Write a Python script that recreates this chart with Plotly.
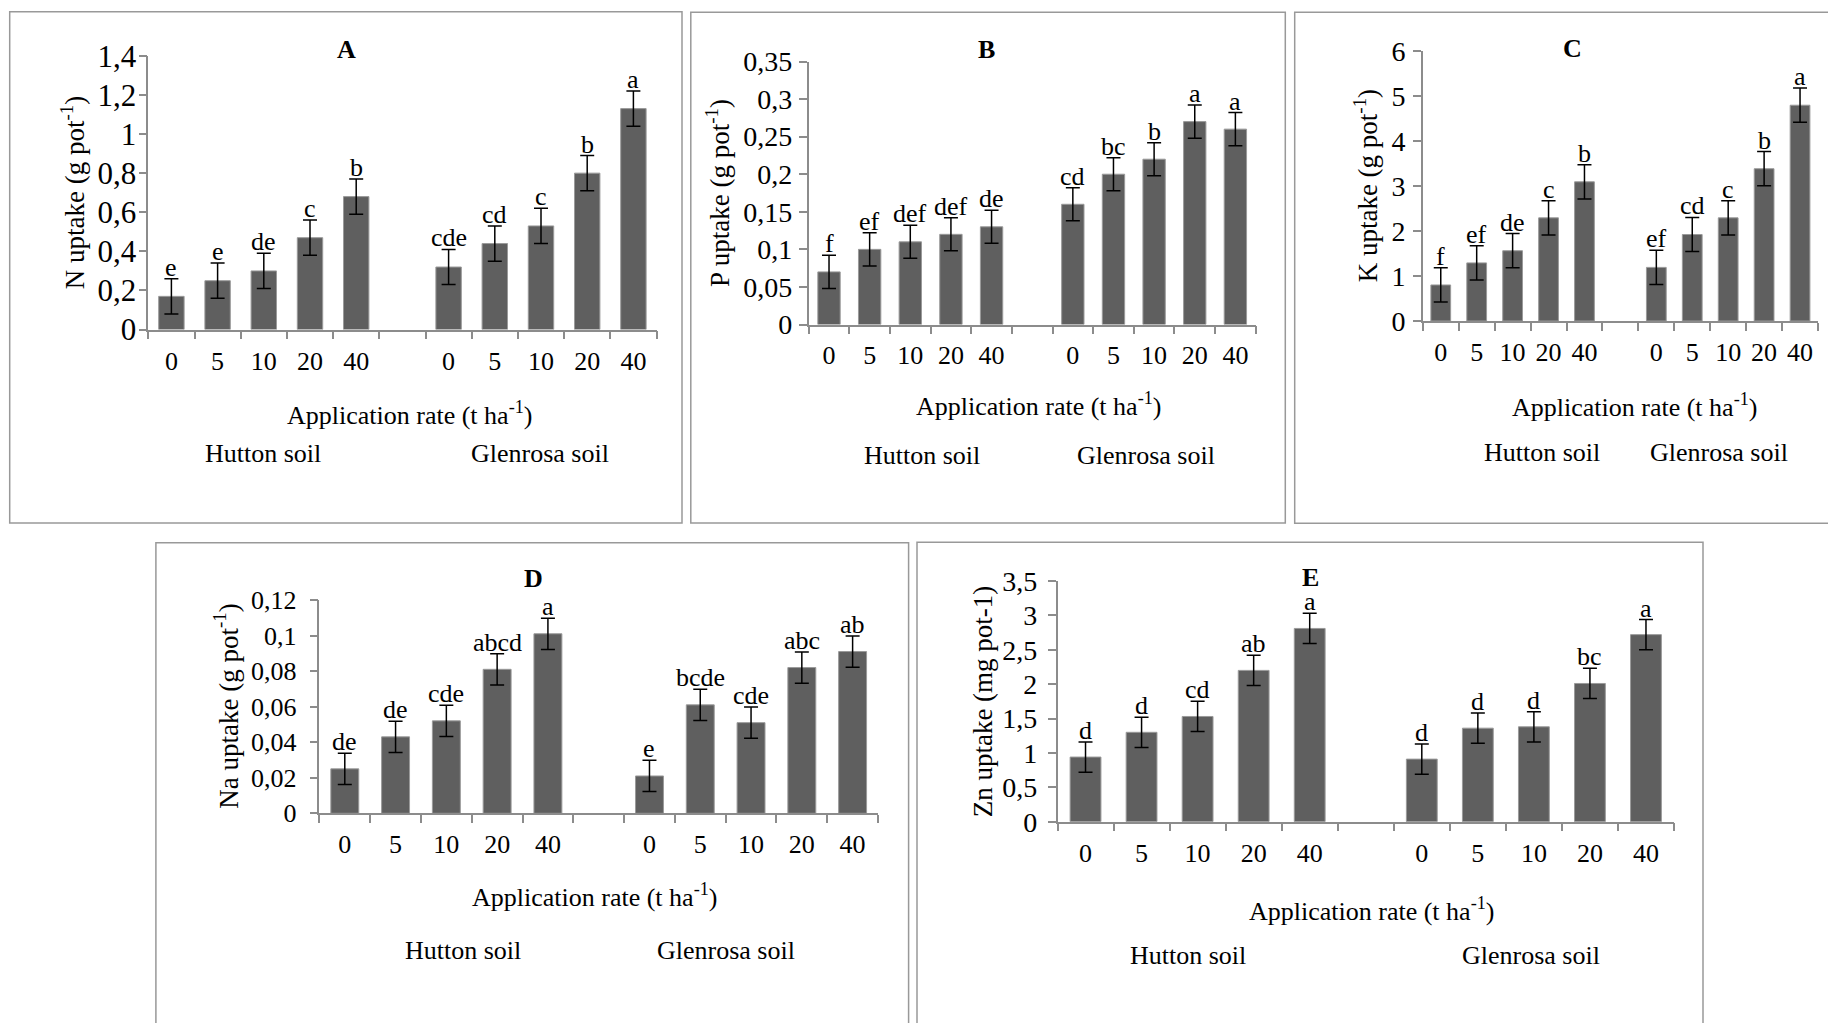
import plotly.graph_objects as go

W, H = 1828, 1023
FONT = "Liberation Serif"

rates = ["0", "5", "10", "20", "40"]
soils = ["Hutton soil", "Glenrosa soil"]
xlabel = "Application rate (t ha<sup>-1</sup>)"

# Panel A - N uptake
n_hutton = [0.17, 0.25, 0.30, 0.47, 0.68]
n_glen = [0.32, 0.44, 0.53, 0.80, 1.13]
n_err_hutton = [0.09, 0.09, 0.09, 0.09, 0.09]
n_err_glen = [0.09, 0.09, 0.09, 0.09, 0.09]
n_letters_hutton = ["e", "e", "de", "c", "b"]
n_letters_glen = ["cde", "cd", "c", "b", "a"]

# Panel B - P uptake
p_hutton = [0.07, 0.10, 0.11, 0.12, 0.13]
p_glen = [0.16, 0.20, 0.22, 0.27, 0.26]
p_err_hutton = [0.022, 0.022, 0.022, 0.022, 0.022]
p_err_glen = [0.022, 0.022, 0.022, 0.022, 0.022]
p_letters_hutton = ["f", "ef", "def", "def", "de"]
p_letters_glen = ["cd", "bc", "b", "a", "a"]

# Panel C - K uptake
k_hutton = [0.80, 1.29, 1.56, 2.29, 3.09]
k_glen = [1.19, 1.92, 2.29, 3.38, 4.79]
k_err_hutton = [0.38, 0.38, 0.38, 0.38, 0.38]
k_err_glen = [0.38, 0.38, 0.38, 0.38, 0.38]
k_letters_hutton = ["f", "ef", "de", "c", "b"]
k_letters_glen = ["ef", "cd", "c", "b", "a"]

# Panel D - Na uptake
na_hutton = [0.025, 0.043, 0.052, 0.081, 0.101]
na_glen = [0.021, 0.061, 0.051, 0.082, 0.091]
na_err_hutton = [0.0088, 0.0088, 0.0088, 0.0088, 0.0088]
na_err_glen = [0.0088, 0.0088, 0.0088, 0.0088, 0.0088]
na_letters_hutton = ["de", "de", "cde", "abcd", "a"]
na_letters_glen = ["e", "bcde", "cde", "abc", "ab"]

# Panel E - Zn uptake
zn_hutton = [0.94, 1.30, 1.53, 2.20, 2.81]
zn_glen = [0.91, 1.36, 1.38, 2.01, 2.72]
zn_err_hutton = [0.22, 0.22, 0.22, 0.22, 0.22]
zn_err_glen = [0.22, 0.22, 0.22, 0.22, 0.22]
zn_letters_hutton = ["d", "d", "cd", "ab", "a"]
zn_letters_glen = ["d", "d", "d", "bc", "a"]

panels = [
    dict(key="A", ytitle="N uptake (g pot<sup>-1</sup>)", ymax=1.4, dtick=0.2,
         h=n_hutton, g=n_glen, eh=n_err_hutton, eg=n_err_glen,
         lh=n_letters_hutton, lg=n_letters_glen, yfs=31, ystand=-4,
         plot=(148.3, 656.5, 55.8, 329.6), box=(9.7, 682, 11.8, 523),
         title_pos=(346, 50), ytitle_x=72.6, xlab_pos=(409, 413),
         soil_pos=((263, 453), (540, 453))),
    dict(key="B", ytitle="P uptake (g pot<sup>-1</sup>)", ymax=0.35, dtick=0.05,
         h=p_hutton, g=p_glen, eh=p_err_hutton, eg=p_err_glen,
         lh=p_letters_hutton, lg=p_letters_glen, yfs=28, ystand=1,
         plot=(808.7, 1255.7, 61.5, 324.5), box=(690.8, 1285.3, 12.3, 523),
         title_pos=(987, 50), ytitle_x=718, xlab_pos=(1038, 404),
         soil_pos=((922, 455), (1146, 455))),
    dict(key="C", ytitle="K uptake (g pot<sup>-1</sup>)", ymax=6, dtick=1,
         h=k_hutton, g=k_glen, eh=k_err_hutton, eg=k_err_glen,
         lh=k_letters_hutton, lg=k_letters_glen, yfs=28, ystand=2,
         plot=(1422.8, 1818, 50.7, 321), box=(1294.7, 1840, 12.3, 523.3),
         title_pos=(1572, 49), ytitle_x=1365.5, xlab_pos=(1634.5, 405),
         soil_pos=((1542, 452), (1719, 452))),
    dict(key="D", ytitle="Na uptake (g pot<sup>-1</sup>)", ymax=0.12, dtick=0.02,
         h=na_hutton, g=na_glen, eh=na_err_hutton, eg=na_err_glen,
         lh=na_letters_hutton, lg=na_letters_glen, yfs=26, ystand=8,
         plot=(319.4, 878, 600, 813.3), box=(155.9, 908.6, 542.7, 1040),
         title_pos=(533, 578), ytitle_x=226, xlab_pos=(594, 895),
         soil_pos=((463, 950), (726, 950))),
    dict(key="E", ytitle="Zn uptake (mg pot-1)", ymax=3.5, dtick=0.5,
         h=zn_hutton, g=zn_glen, eh=zn_err_hutton, eg=zn_err_glen,
         lh=zn_letters_hutton, lg=zn_letters_glen, yfs=28, ystand=5,
         plot=(1057.5, 1674, 581, 821.7), box=(917, 1703, 542.3, 1040),
         title_pos=(1310, 577), ytitle_x=983, xlab_pos=(1371, 909),
         soil_pos=((1188, 955), (1531, 955))),
]

AXIS_COLOR = "#8c8c8c"
BAR_COLOR = "#5f5f5f"

fig = go.Figure()
annotations = []
shapes = []


def px(x):
    return x / W


def py(y):
    return 1 - y / H


pos_hutton = [0, 1, 2, 3, 4]
pos_glen = [6, 7, 8, 9, 10]
boundaries = [-0.5 + i for i in range(12)]

for i, p in enumerate(panels):
    n = "" if i == 0 else str(i + 1)
    xa, ya = "x" + n, "y" + n
    x0, x1, y0, y1 = p["plot"]
    fig.add_trace(go.Bar(
        x=pos_hutton + pos_glen,
        y=p["h"] + p["g"],
        width=0.55,
        marker=dict(color=BAR_COLOR, line=dict(color="#9a9a9a", width=1)),
        error_y=dict(type="data", array=p["eh"] + p["eg"], color="black",
                     thickness=1.5, width=7),
        xaxis=xa, yaxis=ya, showlegend=False, hoverinfo="x+y",
    ))
    xkey = "xaxis" + n
    ykey = "yaxis" + n
    fig.layout[xkey] = dict(
        domain=[px(x0), px(x1)], anchor=ya, range=[-0.5, 10.5],
        tickmode="array", tickvals=pos_hutton + pos_glen, ticktext=rates + rates,
        ticks="", showline=True, linecolor=AXIS_COLOR, linewidth=1.5,
        showgrid=False, zeroline=False, ticklabelstandoff=7, automargin=False,
        tickfont=dict(family=FONT, size=26, color="black"),
        minor=dict(tickmode="array", tickvals=boundaries, ticks="outside", ticklen=8,
                   tickcolor=AXIS_COLOR, tickwidth=1.5, showgrid=False),
        fixedrange=True,
    )
    fig.layout[ykey] = dict(
        domain=[py(y1), py(y0)], anchor=xa, range=[0, p["ymax"]],
        dtick=p["dtick"], tick0=0, ticks="outside", ticklen=8,
        tickcolor=AXIS_COLOR, tickwidth=1.5,
        showline=True, linecolor=AXIS_COLOR, linewidth=1.5,
        showgrid=False, zeroline=False, ticklabelstandoff=p["ystand"],
        automargin=False,
        tickfont=dict(family=FONT, size=p["yfs"], color="black"),
        fixedrange=True,
    )
    # significance letters
    for xpos, val, err, lab in zip(pos_hutton + pos_glen, p["h"] + p["g"],
                                   p["eh"] + p["eg"], p["lh"] + p["lg"]):
        annotations.append(dict(
            x=xpos, y=val + err, xref=xa, yref=ya, text=lab, showarrow=False,
            yanchor="bottom", xanchor="center", yshift=-5,
            font=dict(family=FONT, size=26, color="black")))
    # panel title
    tx, ty = p["title_pos"]
    annotations.append(dict(x=px(tx), y=py(ty), xref="paper", yref="paper",
                            text="<b>%s</b>" % p["key"], showarrow=False,
                            xanchor="center", yanchor="middle",
                            font=dict(family=FONT, size=26, color="black")))
    # y title
    annotations.append(dict(x=px(p["ytitle_x"]), y=py((y0 + y1) / 2),
                            xref="paper", yref="paper", text=p["ytitle"],
                            textangle=-90, showarrow=False,
                            xanchor="center", yanchor="middle",
                            font=dict(family=FONT, size=27, color="black")))
    # x title
    lx, ly = p["xlab_pos"]
    annotations.append(dict(x=px(lx), y=py(ly), xref="paper", yref="paper",
                            text=xlabel, showarrow=False,
                            xanchor="center", yanchor="middle",
                            font=dict(family=FONT, size=26, color="black")))
    for (sx, sy), s in zip(p["soil_pos"], soils):
        annotations.append(dict(x=px(sx), y=py(sy), xref="paper", yref="paper",
                                text=s, showarrow=False,
                                xanchor="center", yanchor="middle",
                                font=dict(family=FONT, size=26, color="black")))
    bx0, bx1, by0, by1 = p["box"]
    shapes.append(dict(type="rect", xref="paper", yref="paper",
                       x0=px(bx0), x1=px(bx1), y0=py(by1), y1=py(by0),
                       line=dict(color="#999999", width=1.5)))

fig.update_layout(
    template="none",
    width=W, height=H, autosize=False,
    margin=dict(l=0, r=0, t=0, b=0, pad=0, autoexpand=False),
    paper_bgcolor="white", plot_bgcolor="white",
    separators=", ",
    font=dict(family=FONT, size=26, color="black"),
    annotations=annotations, shapes=shapes, bargap=0.45,
)

fig.write_html("out.html", config={"displayModeBar": False})
